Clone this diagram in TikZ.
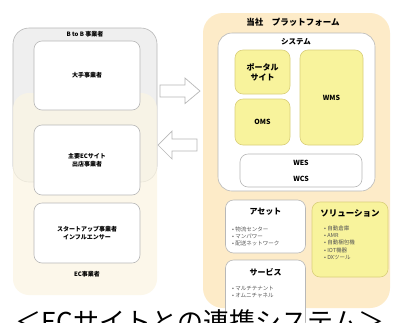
\documentclass[tikz,border=0pt]{standalone}
\usepackage{fontspec}
\setmainfont{Noto Sans CJK JP}
\definecolor{grayfill}{HTML}{EFEFEF}
\definecolor{grayline}{HTML}{B8B8B8}
\definecolor{ecbeige}{HTML}{FBF5E4}
\definecolor{platbeige}{HTML}{FDEBC8}
\definecolor{yel}{HTML}{F8F39C}
\definecolor{yelline}{HTML}{D9CF7A}
\definecolor{bullet}{HTML}{555555}
\tikzset{
  group/.style={draw=grayline, line width=0.6pt, rounded corners=16pt},
  wbox/.style={draw=grayline, fill=white, line width=0.6pt, rounded corners=8pt, align=center, font=\bfseries\fontsize{6}{8}\selectfont},
  ybox/.style={draw=yelline, fill=yel, line width=0.6pt, rounded corners=8pt, align=center, font=\bfseries\fontsize{8}{10}\selectfont},
  lbl/.style={font=\bfseries\fontsize{6}{7}\selectfont, inner sep=0pt},
  blist/.style={align=left, text=bullet, font=\fontsize{5.5}{7.3}\selectfont, inner sep=0pt, anchor=north west},
  blockarrow/.style={draw=grayline, fill=white, line width=0.7pt, line join=miter},
}
\begin{document}
\begin{tikzpicture}[x=1pt,y=-1pt]
\useasboundingbox (0,0) rectangle (393,322);
\fill[white] (0,0) rectangle (393,322);
% left groups
\path[group, fill=grayfill] (13,28) rectangle (157,182);
\path[fill=ecbeige, fill opacity=0.75, rounded corners=16pt] (13,93) rectangle (157,295);
\node[lbl] (btob) at (85,34) {B to B 事業者};
\node[wbox, minimum width=106pt, minimum height=69pt] (big) at (87,75.5) {大手事業者};
\node[wbox, minimum width=106pt, minimum height=70pt] (major) at (87,160) {主要ECサイト\\出店事業者};
\node[wbox, minimum width=106pt, minimum height=60pt] (start) at (87,233) {スタートアップ事業者\\インフルエンサー};
\node[lbl] (ec) at (87,274) {EC事業者};
% platform
\path[fill=platbeige, rounded corners=20pt] (203,13) rectangle (390,308);
\node[font=\bfseries\fontsize{8.5}{10}\selectfont, inner sep=0pt] (plat) at (293,22) {当社\quad プラットフォーム};
\path[group, fill=white, rounded corners=14pt] (218,33) rectangle (375,191);
\node[font=\bfseries\fontsize{7.5}{9}\selectfont, inner sep=0pt] (sys) at (296,42) {システム};
\node[ybox, minimum width=55pt, minimum height=44pt] (portal) at (262.5,72) {ポータル\\サイト};
\node[ybox, minimum width=55pt, minimum height=46pt, font=\bfseries\fontsize{7}{9}\selectfont] (oms) at (262.5,122) {OMS};
\node[ybox, minimum width=63pt, minimum height=95pt, font=\bfseries\fontsize{7}{9}\selectfont] (wms) at (331.5,97.5) {WMS};
\node[wbox, minimum width=122pt, minimum height=33pt, font=\bfseries\fontsize{7}{16}\selectfont] (wes) at (301,170.5) {WES\\WCS};
% asset
\node[wbox, minimum width=80pt, minimum height=53pt] (asset) at (265.5,226.5) {};
\node[font=\bfseries\fontsize{8}{9}\selectfont, inner sep=0pt] (assett) at (265.5,212) {アセット};
\node[blist] (assetl) at (232,226.5) {• 物流センター\\• マンパワー\\• 配送ネットワーク};
% solution
\node[ybox, minimum width=76pt, minimum height=75pt] (sol) at (350,239.5) {};
\node[font=\bfseries\fontsize{8.5}{9}\selectfont, inner sep=0pt] (solt) at (350,213) {ソリューション};
\node[blist] (soll) at (324,225.5) {• 自動倉庫\\• AMR\\• 自動梱包機\\• IOT機器\\• DXツール};
% service
\node[wbox, minimum width=80pt, minimum height=70pt] (serv) at (265.5,295) {};
\node[font=\bfseries\fontsize{8}{9}\selectfont, inner sep=0pt] (servt) at (265.5,272) {サービス};
\node[blist] (servl) at (232,286) {• マルチテナント\\• オムニチャネル};
% arrows
\coordinate (ra) at (160,91);
\coordinate (la) at (158,145);
\draw[blockarrow] (ra) ++(0,-6) -- ++(25,0) -- ++(0,-7) -- ++(15,13) -- ++(-15,12.5) -- ++(0,-6.5) -- ++(-25,0) -- cycle;
\draw[blockarrow] (la) -- ++(14,-14) -- ++(0,8) -- ++(25,0) -- ++(0,12) -- ++(-25,0) -- ++(0,8) -- cycle;
% title (cut off at the bottom edge, as in the reference)
\node[anchor=base, font=\fontsize{26}{30}\selectfont, inner sep=0pt] (title) at (200,331) {＜ECサイトとの連携システム＞};
\end{tikzpicture}
\end{document}
